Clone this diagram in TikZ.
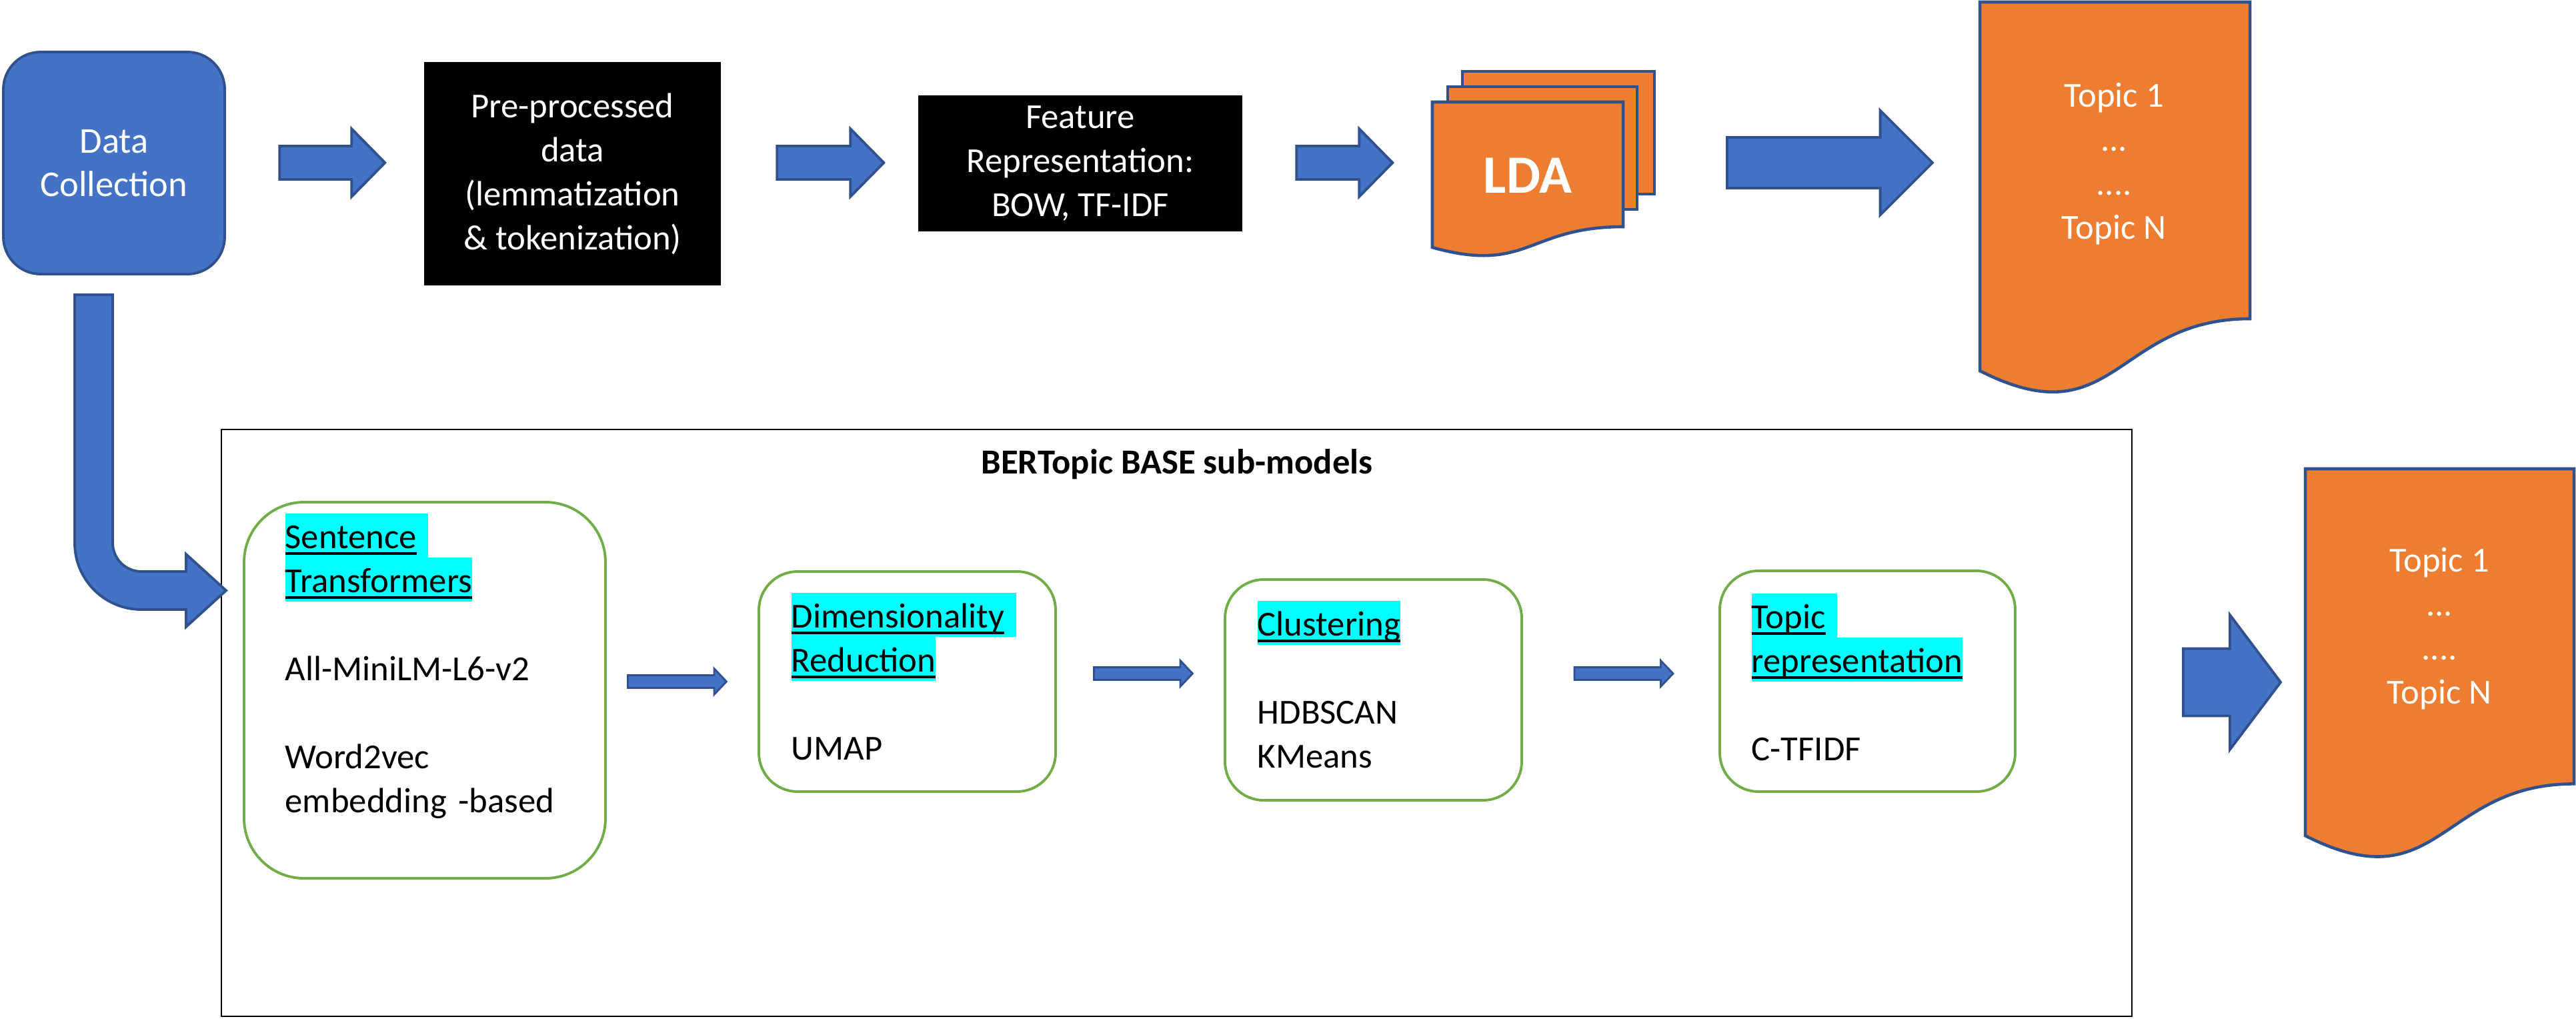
\documentclass[tikz,border=0pt]{standalone}
\usepackage{fontspec}
\setmainfont{Carlito}
\usepackage{tikz}
\usetikzlibrary{shapes.arrows}

\definecolor{bluefill}{HTML}{4472C4}
\definecolor{blueline}{HTML}{2F528F}
\definecolor{orangefill}{HTML}{ED7D31}
\definecolor{greenline}{HTML}{70AD47}
\definecolor{hlcyan}{HTML}{00FFFF}

% highlighted + underlined heading word
\newcommand{\cyanmark}[2][]{{\fboxsep=0pt\colorbox{hlcyan}{\rule[-0.13cm]{0pt}{0.66cm}\setbox0=\hbox{#2}\rlap{\rule[-0.09cm]{\wd0}{0.04cm}}\box0#1}}}

\begin{document}
\begin{tikzpicture}[
    flowarrow/.style={single arrow, draw=blueline, fill=bluefill, line width=1.1pt, inner xsep=0pt},
    blackbox/.style={fill=black, text=white, align=center, font=\fontsize{15}{18.78}\selectfont},
    submodel/.style={draw=greenline, line width=1.1pt, fill=white},
    subtext/.style={anchor=north west, inner sep=0pt, align=left, font=\fontsize{15}{18.78}\selectfont},
    doctext/.style={anchor=north, inner sep=0pt, align=center, text=white, font=\fontsize{15}{18.78}\selectfont},
    docshape/.style={draw=blueline, fill=orangefill, line width=1.3pt}
    ]

            \useasboundingbox (0,0) rectangle (38.63,-15.30);

            %data collection
            \node[draw=blueline, fill=bluefill, line width=1.1pt, rounded corners=0.56cm, minimum width=3.32cm, minimum height=3.33cm, text=white, align=center, font=\fontsize{15.5}{18.6}\selectfont] (datacol) at (1.71,-2.445) {Data\\Collection};

            %pre-processing and features
            \node[blackbox, minimum width=4.45cm, minimum height=3.35cm] (prep) at (8.585,-2.605) {Pre-processed\\data\\(lemmatization\\\& tokenization)};
            \node[blackbox, minimum width=4.86cm, minimum height=2.04cm] (feat) at (16.20,-2.45) {Feature\\Representation:\\BOW, TF-IDF};

            %LDA pages
            \draw[docshape] (21.93,-1.07) rectangle (24.81,-2.91);
            \draw[docshape] (21.71,-1.30) rectangle (24.55,-3.14);
            \draw[docshape] (21.48,-1.53) -- (24.34,-1.53) -- (24.34,-3.40) .. controls (22.91,-3.40) and (22.91,-4.11) .. (21.48,-3.71) -- cycle;
            \node[text=white, font=\fontsize{23}{27}\selectfont\bfseries] (lda) at (22.91,-2.63) {LDA};

            %LDA topics
            \draw[docshape] (29.69,-0.03) -- (33.74,-0.03) -- (33.74,-4.78) .. controls (31.715,-4.78) and (31.715,-6.59) .. (29.69,-5.56) -- cycle;
            \node[doctext] (topicsA) at (31.70,-1.07) {\rule{0pt}{0.53cm}Topic 1\\...\\....\\Topic N};

            %top row arrows
            \foreach \x/\len [count=\i] in {4.86/1.58, 12.33/1.60, 20.04/1.44}{
                \node[flowarrow, minimum height=\len cm, inner ysep=0.23cm, single arrow head extend=0.26cm, single arrow tip angle=91] (arr\i) at (\x,-2.44) {};
            };
            \node[flowarrow, minimum height=3.08cm, inner ysep=0.36cm, single arrow head extend=0.405cm, single arrow tip angle=90] (arr4) at (27.25,-2.44) {};

            %BERTopic box
            \node[draw, line width=0.7pt, minimum width=28.65cm, minimum height=8.80cm] (bertbox) at (17.645,-10.84) {};
            \node[font=\fontsize{15}{18}\selectfont\bfseries] (berttitle) at (17.65,-6.96) {BERTopic BASE sub-models};

            %bent arrow into the sub-models
            \draw[draw=blueline, fill=bluefill, line width=1.1pt] (1.12,-4.42) -- (1.69,-4.42) -- (1.69,-8.14) arc[start angle=180, end angle=270, radius=0.43] -- (2.79,-8.57) -- (2.79,-8.31) -- (3.39,-8.855) -- (2.79,-9.40) -- (2.79,-9.14) -- (2.12,-9.14) arc[start angle=270, end angle=180, radius=1.00] -- cycle;

            %sub-models
            \node[submodel, rounded corners=0.9cm, minimum width=5.42cm, minimum height=5.64cm] (sent) at (6.37,-10.35) {};
            \node[submodel, rounded corners=0.58cm, minimum width=4.45cm, minimum height=3.30cm] (dimred) at (13.605,-10.22) {};
            \node[submodel, rounded corners=0.58cm, minimum width=4.45cm, minimum height=3.31cm] (clust) at (20.595,-10.345) {};
            \node[submodel, rounded corners=0.58cm, minimum width=4.43cm, minimum height=3.31cm] (topicrep) at (28.005,-10.215) {};

            \node[subtext, text width=4.6cm] (sent-txt) at (4.27,-7.69) {\cyanmark[\ ]{Sentence}\\\cyanmark{Transformers}\\[18.78pt]All-MiniLM-L6-v2\\[18.78pt]Word2vec\\embedding -based};
            \node[subtext, text width=3.9cm] (dimred-txt) at (11.86,-8.88) {\cyanmark[\ ]{Dimensionality}\\\cyanmark{Reduction}\\[18.78pt]UMAP};
            \node[subtext, text width=3.9cm] (clust-txt) at (18.85,-9.00) {\cyanmark{Clustering}\\[18.78pt]HDBSCAN\\KMeans};
            \node[subtext, text width=3.9cm] (topicrep-txt) at (26.26,-8.89) {\cyanmark[\ ]{Topic}\\\cyanmark{representation}\\[18.78pt]C-TFIDF};

            %sub-model arrows
            \foreach \x/\y [count=\i] in {10.11/-10.22, 17.10/-10.10, 24.305/-10.10}{
                \node[flowarrow, line width=0.8pt, minimum height=1.48cm, inner ysep=0.08cm, single arrow head extend=0.10cm, single arrow tip angle=93] (sarr\i) at (\x,\y) {};
            };

            %BERTopic topics
            \node[flowarrow, minimum height=1.46cm, inner ysep=0.485cm, single arrow head extend=0.505cm, single arrow tip angle=106] (arr5) at (33.28,-10.23) {};
            \draw[docshape] (34.57,-7.03) -- (38.60,-7.03) -- (38.60,-11.754) .. controls (36.585,-11.754) and (36.585,-13.553) .. (34.57,-12.531) -- cycle;
            \node[doctext] (topicsB) at (36.58,-8.04) {\rule{0pt}{0.53cm}Topic 1\\...\\....\\Topic N};

\end{tikzpicture}
\end{document}
